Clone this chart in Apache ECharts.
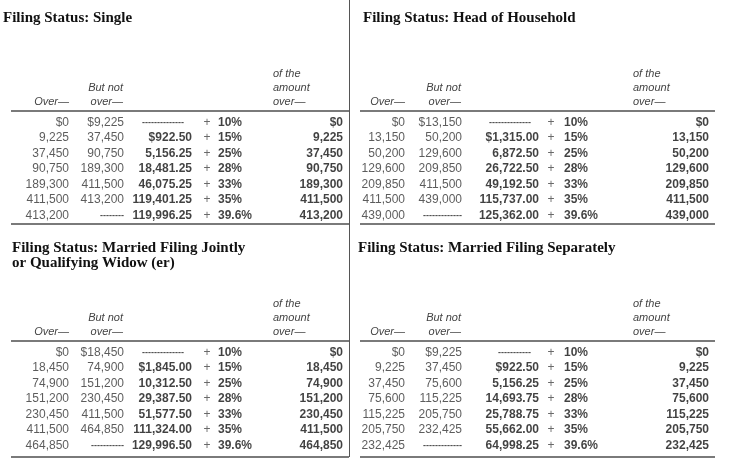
<!DOCTYPE html>
<html><head><meta charset="utf-8">
<script src="https://cdn.jsdelivr.net/npm/echarts@6/dist/echarts.min.js"></script>
<style>html,body{margin:0;padding:0;background:#fff}#c{width:734px;height:470px}</style>
</head><body><div id="c"></div>
<script>
// ---------- DATA ----------
const rates = [10, 15, 25, 28, 33, 35, 39.6];

const singleTitle = ['Filing Status: Single'];
const singleOver = [0, 9225, 37450, 90750, 189300, 411500, 413200];
const singleNotOver = [9225, 37450, 90750, 189300, 411500, 413200, null];
const singleBase = [null, 922.50, 5156.25, 18481.25, 46075.25, 119401.25, 119996.25];

const hohTitle = ['Filing Status: Head of Household'];
const hohOver = [0, 13150, 50200, 129600, 209850, 411500, 439000];
const hohNotOver = [13150, 50200, 129600, 209850, 411500, 439000, null];
const hohBase = [null, 1315.00, 6872.50, 26722.50, 49192.50, 115737.00, 125362.00];

const mfjTitle = ['Filing Status: Married Filing Jointly', 'or Qualifying Widow (er)'];
const mfjOver = [0, 18450, 74900, 151200, 230450, 411500, 464850];
const mfjNotOver = [18450, 74900, 151200, 230450, 411500, 464850, null];
const mfjBase = [null, 1845.00, 10312.50, 29387.50, 51577.50, 111324.00, 129996.50];

const mfsTitle = ['Filing Status: Married Filing Separately'];
const mfsOver = [0, 9225, 37450, 75600, 115225, 205750, 232425];
const mfsNotOver = [9225, 37450, 75600, 115225, 205750, 232425, null];
const mfsBase = [null, 922.50, 5156.25, 14693.75, 25788.75, 55662.00, 64998.25];

const headOver = 'Over\u2014';
const headNotOver = ['But not', 'over\u2014'];
const headAmount = ['of the', 'amount', 'over\u2014'];
const rowKeys = ['r1', 'r2', 'r3', 'r4', 'r5', 'r6', 'r7'];

// ---------- LAYOUT ----------
const L = [
  {titleX: 3, titleY: 18, headY: 74, ruleY: 111, ruleX: [11, 349], rowTop: 115, bottomY: 224,
   c: {over: 69, notOver: 124, base: 192, plus: 207, rate: 218, amount: 343}, hNot: 123, hAmt: 273, dN: 8, dB: 14},
  {titleX: 363, titleY: 18, headY: 74, ruleY: 111, ruleX: [360, 715], rowTop: 115, bottomY: 224,
   c: {over: 405, notOver: 462, base: 539, plus: 551, rate: 564, amount: 709}, hNot: 461, hAmt: 633, dN: 13, dB: 14},
  {titleX: 12, titleY: 248, headY: 304, ruleY: 341, ruleX: [11, 349], rowTop: 345, bottomY: 457,
   c: {over: 69, notOver: 124, base: 192, plus: 207, rate: 218, amount: 343}, hNot: 123, hAmt: 273, dN: 11, dB: 14},
  {titleX: 358, titleY: 248, headY: 304, ruleY: 341, ruleX: [360, 715], rowTop: 345, bottomY: 457,
   c: {over: 405, notOver: 462, base: 539, plus: 551, rate: 564, amount: 709}, hNot: 461, hAmt: 633, dN: 13, dB: 11}
];
const ROW_H = 15.43;

const tables = [
  {title: singleTitle, over: singleOver, notOver: singleNotOver, base: singleBase},
  {title: hohTitle, over: hohOver, notOver: hohNotOver, base: hohBase},
  {title: mfjTitle, over: mfjOver, notOver: mfjNotOver, base: mfjBase},
  {title: mfsTitle, over: mfsOver, notOver: mfsNotOver, base: mfsBase}
];

function commas(s) { return s.replace(/\B(?=(\d{3})+(?!\d))/g, ','); }
function fmtInt(v) { return commas(String(Math.round(v))); }
function fmtDec(v) { const p = v.toFixed(2).split('.'); return commas(p[0]) + '.' + p[1]; }

const SANS = '"Liberation Sans", Arial, Helvetica, sans-serif';
const SERIF = '"Liberation Serif", "Times New Roman", serif';

const grids = [], xAxes = [], yAxes = [], series = [], graphics = [];

function addColumn(lay, x, values, fmt, opts) {
  const gi = grids.length;
  grids.push({left: x - 1, width: 2, top: lay.rowTop, height: ROW_H * 7, containLabel: false});
  xAxes.push({type: 'category', gridIndex: gi, data: [''], show: false});
  yAxes.push({type: 'category', gridIndex: gi, data: rowKeys, inverse: true, show: false});
  const data = values.map((v, i) => {
    const item = {value: [0, i], raw: v, text: fmt(v, i)};
    if (v === null && opts.dashShift) item.label = {offset: [-opts.dashShift, 0]};
    return item;
  });
  series.push({
    type: 'scatter', xAxisIndex: gi, yAxisIndex: gi, symbolSize: 0, silent: true,
    data: data,
    label: {
      show: true, position: opts.position, distance: 0,
      fontFamily: SANS, fontSize: 12, fontWeight: opts.bold ? 'bold' : 'normal', color: opts.color,
      formatter: p => p.data.raw === null ? '{d|' + '-'.repeat(opts.dashes) + '}' : p.data.text,
      rich: {d: {fontFamily: SANS, fontSize: 9, fontWeight: 'bold', color: '#222'}}
    }
  });
}

tables.forEach((t, k) => {
  const lay = L[k];
  // titles
  t.title.forEach((line, j) => graphics.push({type: 'text', x: lay.titleX, y: lay.titleY + j * 15,
    style: {text: line, font: 'bold 15px ' + SERIF, fill: '#111', textVerticalAlign: 'middle', verticalAlign: 'middle'}}));
  // headers
  const hf = 'italic 11px ' + SANS;
  graphics.push({type: 'text', x: lay.c.over, y: lay.headY + 28,
    style: {text: headOver, font: hf, fill: '#444', textAlign: 'right', align: 'right', textVerticalAlign: 'middle', verticalAlign: 'middle'}});
  headNotOver.forEach((h, j) => graphics.push({type: 'text', x: lay.hNot, y: lay.headY + 14 + j * 14,
    style: {text: h, font: hf, fill: '#444', textAlign: 'right', align: 'right', textVerticalAlign: 'middle', verticalAlign: 'middle'}}));
  headAmount.forEach((h, j) => graphics.push({type: 'text', x: lay.hAmt, y: lay.headY + j * 14,
    style: {text: h, font: hf, fill: '#444', textVerticalAlign: 'middle', verticalAlign: 'middle'}}));
  // rules
  graphics.push({type: 'line', shape: {x1: lay.ruleX[0], y1: lay.ruleY, x2: lay.ruleX[1], y2: lay.ruleY}, style: {stroke: '#7a7a7a', lineWidth: 2}});
  graphics.push({type: 'line', shape: {x1: lay.ruleX[0], y1: lay.bottomY, x2: lay.ruleX[1], y2: lay.bottomY}, style: {stroke: '#7a7a7a', lineWidth: 2}});
  // columns
  addColumn(lay, lay.c.over, t.over, (v, i) => (i === 0 ? '$' : '') + fmtInt(v), {position: 'left', color: '#333'});
  addColumn(lay, lay.c.notOver, t.notOver, (v, i) => v === null ? '' : (i === 0 ? '$' : '') + fmtInt(v), {position: 'left', color: '#333', dashes: lay.dN});
  addColumn(lay, lay.c.base, t.base, (v, i) => v === null ? '' : (i === 1 ? '$' : '') + fmtDec(v), {position: 'left', color: '#111', bold: true, dashes: lay.dB, dashShift: 8});
  addColumn(lay, lay.c.plus, rates, () => '+', {position: 'inside', color: '#444'});
  addColumn(lay, lay.c.rate, rates, v => v + '%', {position: 'right', color: '#111', bold: true});
  addColumn(lay, lay.c.amount, t.over, (v, i) => (i === 0 ? '$' : '') + fmtInt(v), {position: 'left', color: '#111', bold: true});
});

// vertical divider
graphics.push({type: 'line', shape: {x1: 349.5, y1: 0, x2: 349.5, y2: 457}, style: {stroke: '#555', lineWidth: 1}});

const chart = echarts.init(document.getElementById('c'), null, {renderer: 'canvas'});
chart.setOption({
  animation: false,
  backgroundColor: '#fff',
  grid: grids, xAxis: xAxes, yAxis: yAxes, series: series,
  graphic: {elements: graphics}
});
</script></body></html>
